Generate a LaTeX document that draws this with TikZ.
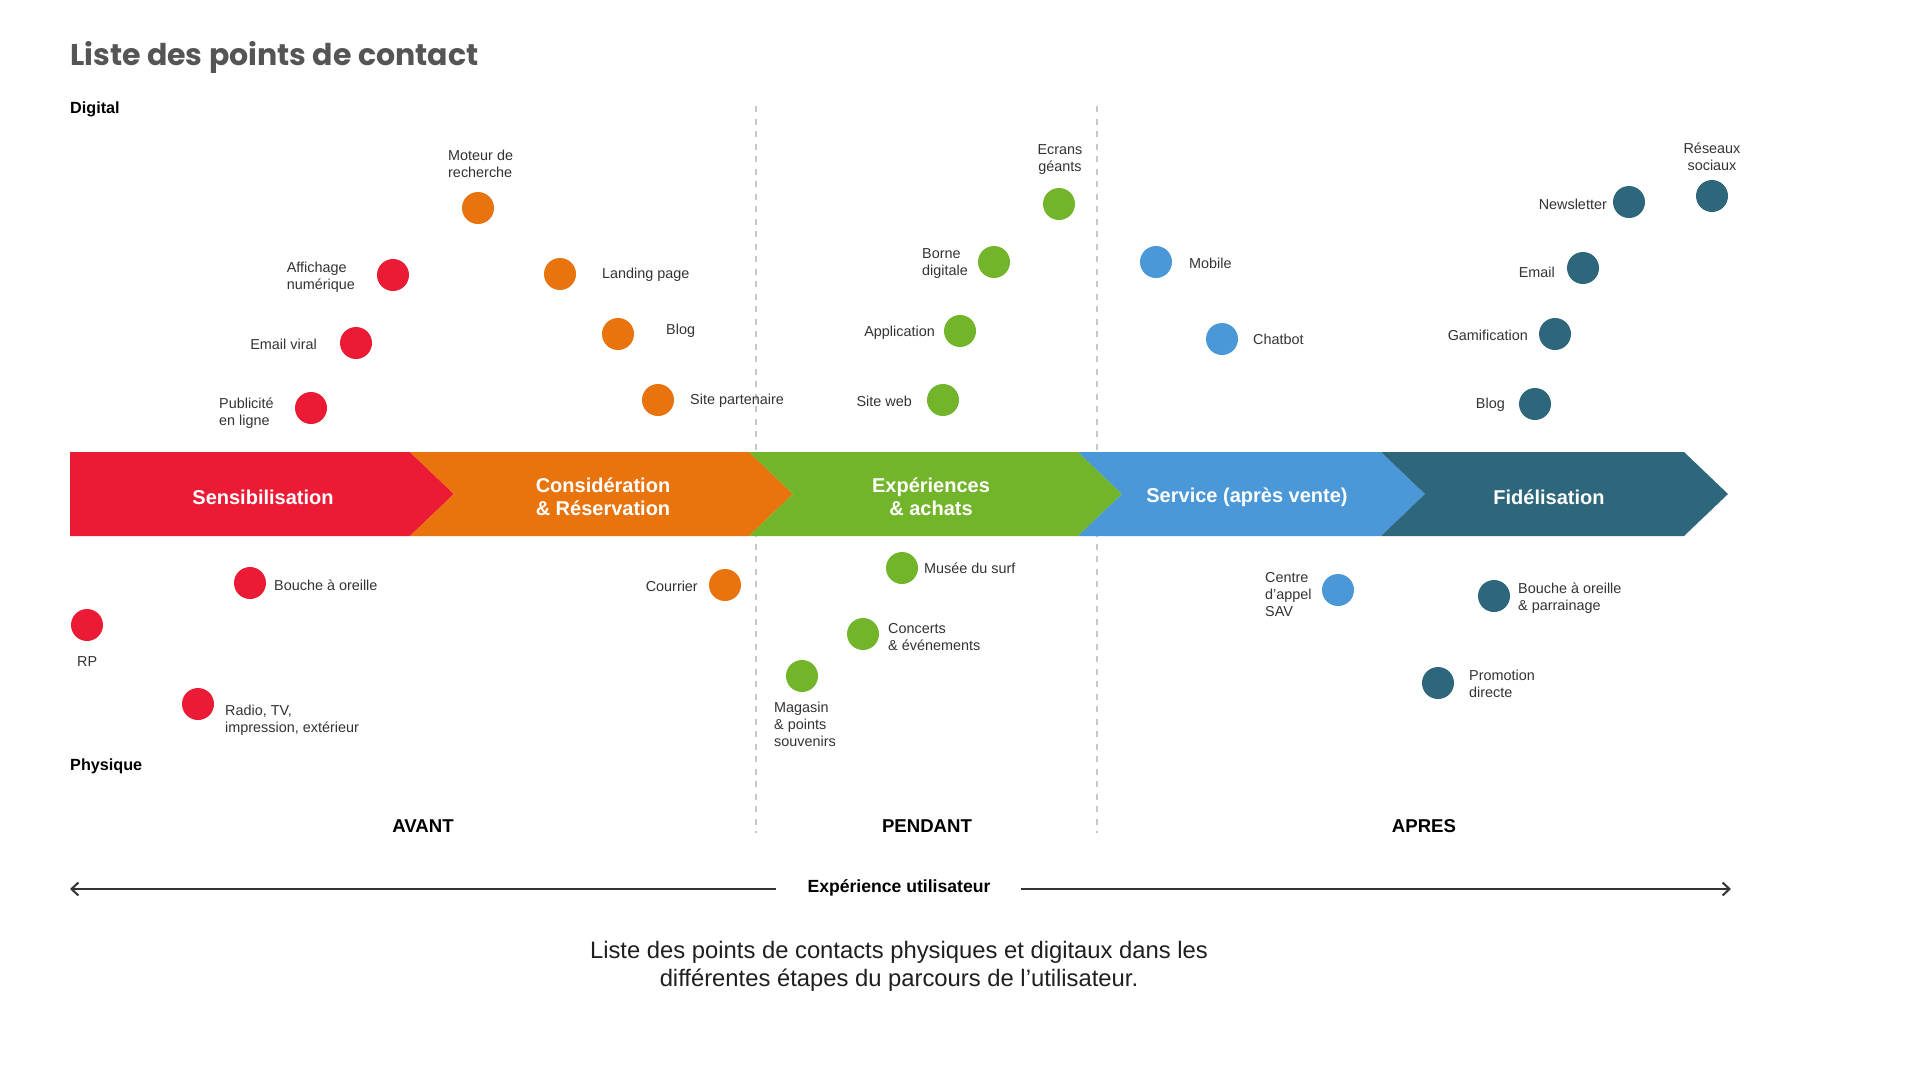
\documentclass[tikz,border=0pt]{standalone}
\usepackage{fontspec}
\setmainfont{Liberation Sans}
\newfontfamily\titlefont{Poppins}
\usetikzlibrary{arrows.meta}
\definecolor{cred}{HTML}{EC1B35}
\definecolor{corange}{HTML}{E9730C}
\definecolor{cgreen}{HTML}{72B42A}
\definecolor{cblue}{HTML}{4A98D8}
\definecolor{cteal}{HTML}{2E677B}
\definecolor{ctext}{HTML}{333333}
\definecolor{ctitle}{HTML}{555555}
\definecolor{cdash}{HTML}{C8C8C8}
\begin{document}
\begin{tikzpicture}[x=1pt,y=-1pt,
  dot/.style={circle,fill=#1,minimum size=32pt,inner sep=0pt},
  lbl/.style={font=\fontsize{14.4}{17}\selectfont,text=ctext,inner sep=0pt,align=left},
  lblc/.style={lbl,align=center},
  bandtxt/.style={font=\bfseries\fontsize{20}{23}\selectfont,text=white,align=center,inner sep=0pt},
  axis/.style={font=\bfseries\fontsize{16.2}{20}\selectfont,text=black,inner sep=0pt},
  phase/.style={font=\bfseries\fontsize{18.6}{20}\selectfont,text=black,inner sep=0pt},
  sep/.style={draw=cdash,line width=1.5pt,dash pattern=on 6pt off 6.5pt},
  exparrow/.style={draw=ctext,line width=2pt,-{Straight Barb[length=7pt,width=13pt,line width=2pt]}}
]
\useasboundingbox[fill=white] (0,0) rectangle (1920,1080);

% title
\node[anchor=base west,inner sep=0pt,font=\titlefont\bfseries\fontsize{30}{32}\selectfont,text=ctitle] (title) at (70,65) {Liste des points de contact};
\node[axis,anchor=west] (digital) at (70,109.5) {Digital};
\node[axis,anchor=west] (physique) at (70,766.5) {Physique};

% separators
\coordinate (s1t) at (756,106); \coordinate (s1b) at (756,833);
\coordinate (s2t) at (1097,106); \coordinate (s2b) at (1097,833);
\draw[sep] (s1t) -- (s1b);
\draw[sep] (s2t) -- (s2b);

% band
\fill[cred] (70,452) -- (410,452) -- (454,494) -- (410,536) -- (70,536) -- cycle;
\fill[corange] (410,452) -- (749,452) -- (793,494) -- (749,536) -- (410,536) -- (454,494) -- cycle;
\fill[cgreen] (749,452) -- (1078,452) -- (1122,494) -- (1078,536) -- (749,536) -- (793,494) -- cycle;
\fill[cblue] (1078,452) -- (1381,452) -- (1425,494) -- (1381,536) -- (1078,536) -- (1122,494) -- cycle;
\fill[cteal] (1381,452) -- (1684,452) -- (1728,494) -- (1684,536) -- (1381,536) -- (1425,494) -- cycle;

\node[bandtxt] (b1) at (263,497) {Sensibilisation};
\node[bandtxt] (b2) at (603,496.5) {Considération\\\& Réservation};
\node[bandtxt] (b3) at (931,496.5) {Expériences\\\& achats};
\node[bandtxt] (b4) at (1247,497) {Service (après vente)};
\node[bandtxt] (b5) at (1549,497) {Fidélisation};

% red
\node[dot=cred] (r1) at (393,275) {};
\node[lbl,anchor=east] (r1l) at (355,277) {Affichage\\numérique};
\node[dot=cred] (r2) at (356,343) {};
\node[lbl,anchor=east] (r2l) at (317,344) {Email viral};
\node[dot=cred] (r3) at (311,408) {};
\node[lbl,anchor=west] (r3l) at (219,413) {Publicité\\en ligne};
\node[dot=cred] (r4) at (250,583) {};
\node[lbl,anchor=west] (r4l) at (274,585) {Bouche à oreille};
\node[dot=cred] (r5) at (87,625) {};
\node[lbl,anchor=west] (r5l) at (77,662) {RP};
\node[dot=cred] (r6) at (198,704) {};
\node[lbl,anchor=west] (r6l) at (225,720) {Radio, TV,\\impression, extérieur};

% orange
\node[dot=corange] (o1) at (478,208) {};
\node[lbl,anchor=west] (o1l) at (448,164) {Moteur de\\recherche};
\node[dot=corange] (o2) at (560,274) {};
\node[lbl,anchor=west] (o2l) at (602,275) {Landing page};
\node[dot=corange] (o3) at (618,334) {};
\node[lbl,anchor=west] (o3l) at (666,331) {Blog};
\node[dot=corange] (o4) at (658,400) {};
\node[lbl,anchor=west] (o4l) at (690,401) {Site partenaire};
\node[dot=corange] (o5) at (725,585) {};
\node[lbl,anchor=east] (o5l) at (698,586) {Courrier};

% green
\node[dot=cgreen] (g1) at (1059,204) {};
\node[lblc,anchor=center] (g1l) at (1060,159.5) {Ecrans\\géants};
\node[dot=cgreen] (g2) at (994,262) {};
\node[lbl,anchor=west] (g2l) at (922,263.5) {Borne\\digitale};
\node[dot=cgreen] (g3) at (960,331) {};
\node[lbl,anchor=east] (g3l) at (935,333) {Application};
\node[dot=cgreen] (g4) at (943,400) {};
\node[lbl,anchor=east] (g4l) at (912,401) {Site web};
\node[dot=cgreen] (g5) at (902,568) {};
\node[lbl,anchor=west] (g5l) at (924,568) {Musée du surf};
\node[dot=cgreen] (g6) at (863,634) {};
\node[lbl,anchor=west] (g6l) at (888,637) {Concerts\\\& événements};
\node[dot=cgreen] (g7) at (802,676) {};
\node[lbl,anchor=west] (g7l) at (774,724) {Magasin\\\& points\\souvenirs};

% blue
\node[dot=cblue] (u1) at (1156,262) {};
\node[lbl,anchor=west] (u1l) at (1189,263) {Mobile};
\node[dot=cblue] (u2) at (1222,339) {};
\node[lbl,anchor=west] (u2l) at (1253,339.5) {Chatbot};
\node[dot=cblue] (u3) at (1338,590) {};
\node[lbl,anchor=west] (u3l) at (1265,595) {Centre\\d’appel\\SAV};

% teal
\node[dot=cteal] (t1) at (1712,196) {};
\node[lblc,anchor=center] (t1l) at (1712,157) {Réseaux\\sociaux};
\node[dot=cteal] (t2) at (1629,202) {};
\node[lbl,anchor=east] (t2l) at (1607,204) {Newsletter};
\node[dot=cteal] (t3) at (1583,268) {};
\node[lbl,anchor=east] (t3l) at (1555,272) {Email};
\node[dot=cteal] (t4) at (1555,334) {};
\node[lbl,anchor=east] (t4l) at (1528,335) {Gamification};
\node[dot=cteal] (t5) at (1535,404) {};
\node[lbl,anchor=east] (t5l) at (1505,405) {Blog};
\node[dot=cteal] (t6) at (1494,596) {};
\node[lbl,anchor=west] (t6l) at (1518,598) {Bouche à oreille\\\& parrainage};
\node[dot=cteal] (t7) at (1438,683) {};
\node[lbl,anchor=west] (t7l) at (1469,684) {Promotion\\directe};

% phases
\node[phase] (avant) at (423,826) {AVANT};
\node[phase] (pendant) at (927,826) {PENDANT};
\node[phase] (apres) at (1424,826) {APRES};

% experience arrow
\node[axis,font=\bfseries\fontsize{17.6}{20}\selectfont] (xp) at (899,887.5) {Expérience utilisateur};
\coordinate (gapL) at (776,889);
\coordinate (gapR) at (1021,889);
\coordinate (aL) at (70,889);
\coordinate (aR) at (1731,889);
\draw[exparrow] (gapL) -- (aL);
\draw[exparrow] (gapR) -- (aR);

% caption
\node[font=\fontsize{23.8}{28}\selectfont,text=black!88,align=center,inner sep=0pt] (cap) at (899,966.5) {Liste des points de contacts physiques et digitaux dans les\\différentes étapes du parcours de l’utilisateur.};
\end{tikzpicture}
\end{document}
